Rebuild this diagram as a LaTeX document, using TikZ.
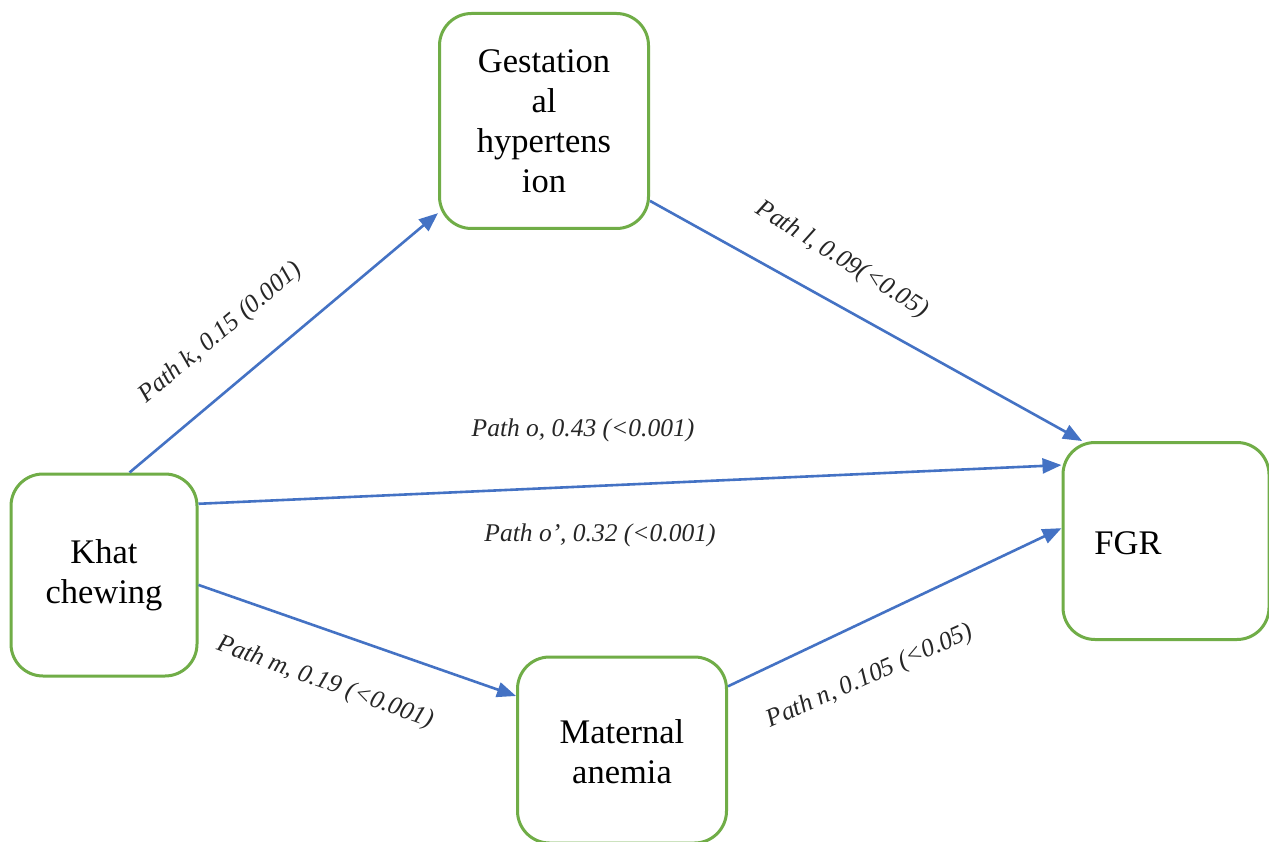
\documentclass[tikz,border=0pt]{standalone}
\usepackage{fontspec}
\setmainfont{Liberation Serif}
\usetikzlibrary{arrows.meta}
\definecolor{boxgreen}{HTML}{70AD47}
\definecolor{arrowblue}{HTML}{4472C4}
\begin{document}
\begin{tikzpicture}[x=1pt,y=-1pt,
  box/.style={draw=boxgreen,line width=3pt,rounded corners=32pt,fill=white,
    inner sep=0pt,align=center,font=\fontsize{34.5}{40}\selectfont},
  boxtext/.style={inner sep=0pt,align=center,font=\fontsize{34.5}{40}\selectfont},
  conn/.style={draw=arrowblue,line width=2.6pt,-{Triangle[length=19pt,width=15pt]}},
  lbl/.style={inner sep=0pt,font=\itshape\fontsize{25.5}{30}\selectfont,text=black!85}]
\useasboundingbox (0,0) rectangle (1269,842);
\fill[white] (0,0) rectangle (1269,842);
% boxes
\node[box,minimum width=186pt,minimum height=202pt] (khat) at (104,575) {Khat\\chewing};
\node[box,minimum width=209pt,minimum height=215pt] (gest) at (544,121) {Gestation\\al\\hypertens\\ion};
\node[box,minimum width=206pt,minimum height=197pt] (fgr) at (1166,541) {};
\node[boxtext] (fgrtext) at (1128,543) {FGR};
\node[box,minimum width=209pt,minimum height=186pt] (mat) at (622,750) {};
\node[boxtext] (mattext) at (622,752) {Maternal\\anemia};
% connectors
\draw[conn] (khat.76) -- (gest.221);
\draw[conn] (gest.-37) -- (fgr.130);
\draw[conn] (khat.37) -- (fgr.144);
\draw[conn] (khat.-6) -- (mat.153);
\draw[conn] (mat.31) -- (fgr.173);
% labels
\node[lbl,rotate=40] (lk) at (221,333) {Path k, 0.15 (0.001)};
\node[lbl,rotate=-32] (ll) at (842,260) {Path l, 0.09(<0.05)};
\node[lbl] (lo) at (583,430) {Path o, 0.43 (<0.001)};
\node[lbl] (lo2) at (600,535) {Path o’, 0.32 (<0.001)};
\node[lbl,rotate=-20] (lm) at (325,683) {Path m, 0.19 (<0.001)};
\node[lbl,rotate=24] (ln) at (870,677) {Path n, 0.105 (<0.05)};
\end{tikzpicture}
\end{document}
